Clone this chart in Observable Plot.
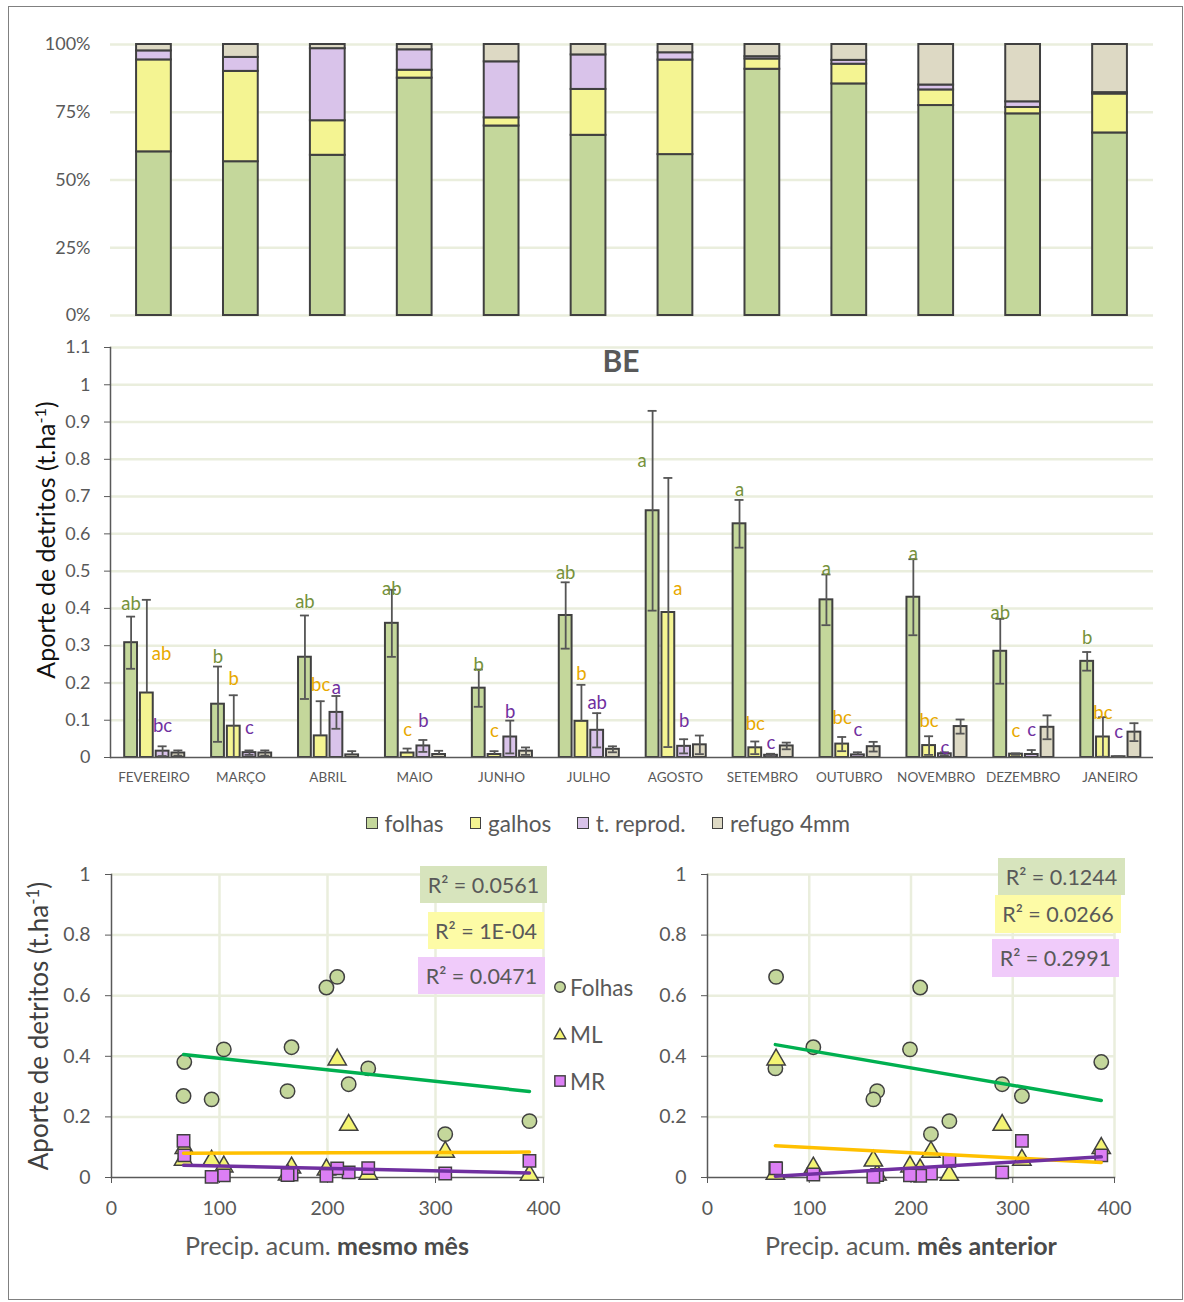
<!DOCTYPE html>
<html>
<head>
<meta charset="utf-8">
<script src="https://cdn.jsdelivr.net/npm/d3@7"></script>
<script src="https://cdn.jsdelivr.net/npm/@observablehq/plot@0.6"></script>
<style>
  body { margin: 0; background: #fff; font-family: Lato, "Noto Sans", sans-serif; }
  #root { position: relative; width: 1184px; height: 1302px; overflow: hidden; }
  .rot { position: absolute; transform: translate(-50%, -50%) rotate(-90deg); white-space: nowrap; }
  .r2 { position: absolute; display: flex; align-items: center; justify-content: center; font-size: 21.5px; color: #595959; white-space: nowrap; }
  .leg { position: absolute; display: flex; align-items: center; gap: 26px; font-size: 22.5px; color: #595959; height: 28px; }
  .leg .it { display: flex; align-items: center; }
  .leg .sw { width: 9.5px; height: 9.5px; border: 1.5px solid #404040; margin-right: 7px; }
  .sleg { position: absolute; display: flex; align-items: center; font-size: 22.5px; color: #595959; height: 28px; }
  .xt { position: absolute; transform: translate(-50%, -50%); font-size: 25px; color: #595959; white-space: nowrap; }
  .xt b { color: #4a4a4a; }
</style>
</head>
<body>
<div id="root"></div>
<script>
// ---------------- DATA ----------------
const months = ["FEVEREIRO","MARÇO","ABRIL","MAIO","JUNHO","JULHO","AGOSTO","SETEMBRO","OUTUBRO","NOVEMBRO","DEZEMBRO","JANEIRO"];
const typeNames = ["folhas","galhos","t. reprod.","refugo 4mm"];

const folhas    = [0.308, 0.143, 0.269, 0.360, 0.186, 0.381, 0.662, 0.627, 0.423, 0.430, 0.285, 0.258];
const folhasSD  = [0.070, 0.101, 0.112, 0.090, 0.050, 0.089, 0.268, 0.064, 0.068, 0.102, 0.087, 0.025];
const galhos    = [0.173, 0.084, 0.058, 0.012, 0.008, 0.097, 0.389, 0.026, 0.036, 0.032, 0.009, 0.055];
const galhosSD  = [0.250, 0.083, 0.093, 0.012, 0.009, 0.098, 0.361, 0.017, 0.019, 0.025, 0.002, 0.053];
const reprod    = [0.017, 0.013, 0.121, 0.031, 0.055, 0.073, 0.030, 0.006, 0.007, 0.010, 0.008, 0.002];
const reprodSD  = [0.013, 0.006, 0.044, 0.016, 0.044, 0.046, 0.019, 0.004, 0.007, 0.004, 0.012, 0.001];
const refugo    = [0.012, 0.012, 0.007, 0.008, 0.017, 0.022, 0.034, 0.031, 0.029, 0.083, 0.081, 0.068];
const refugoSD  = [0.007, 0.007, 0.010, 0.010, 0.010, 0.008, 0.025, 0.009, 0.013, 0.019, 0.032, 0.024];

const folhasLetra  = ["ab","b","ab","ab","b","ab","a","a","a","a","ab","b"];
const galhosLetra  = ["ab","b","bc","c","c","b","a","bc","bc","bc","c","bc"];
const reprodLetra  = ["bc","c","a","b","b","ab","b","c","c","c","c","c"];
const folhasLetraY = [0.411, 0.269, 0.416, 0.453, 0.249, 0.496, 0.796, 0.718, 0.506, 0.546, 0.388, 0.321];
const galhosLetraY = [0.277, 0.210, 0.193, 0.074, 0.070, 0.223, 0.453, 0.089, 0.107, 0.098, 0.071, 0.120];
const reprodLetraY = [0.084, 0.079, 0.186, 0.099, 0.122, 0.147, 0.097, 0.039, 0.073, 0.026, 0.073, 0.068];

const precipMesmo    = [219.6, 309, 66.7, 237.7, 387, 67.4, 209, 199, 104, 166.7, 163, 92.7];
const precipAnterior = [289.6, 219.6, 309, 66.7, 237.7, 387, 67.4, 209, 199, 104, 166.7, 163];

const r2Mesmo    = ["0.0561", "1E-04", "0.0471"];
const r2Anterior = ["0.1244", "0.0266", "0.2991"];
const scatterNames = ["Folhas", "ML", "MR"];
const chartTitle = "BE";
const yTitleHTML = "Aporte de detritos (t.ha<sup style='font-size:0.65em'>-1</sup>)";
const xTitles = [["Precip. acum. ", "mesmo mês"], ["Precip. acum. ", "mês anterior"]];
const pctTicks = [0, 0.25, 0.5, 0.75, 1];
const midTicks = d3.range(0, 12).map(i => i / 10);
const scTicksX = [0, 100, 200, 300, 400];
const scTicksY = [0, 0.2, 0.4, 0.6, 0.8, 1];

// ---------------- STYLE ----------------
const FILLS = ["#C4D79B", "#F4F492", "#D9C3EA", "#DDD9C4"];
const LCOL = ["#76923C", "#E8A900", "#7030A0"];
const GRID = "#EAEEDD";
const AXIS = "#595959";
const EDGE = "#404040";
const SC_FILL = ["#C4D79B", "#F4F474", "#DC7FF5"];
const SC_SYM = ["circle", "triangle", "square"];
const SC_R = [7.2, 6.8, 7.0];
const TREND = ["#00B050", "#FFC000", "#7030A0"];
const R2BG = ["#D7E4BD", "#FDFBA6", "#F0CBFA"];

// ---------------- BUILD ----------------
const series = [folhas, galhos, reprod, refugo];
const sds = [folhasSD, galhosSD, reprodSD, refugoSD];
const letras = [folhasLetra, galhosLetra, reprodLetra];
const letrasY = [folhasLetraY, galhosLetraY, reprodLetraY];
const long = [];
months.forEach((m, i) => series.forEach((s, k) => long.push({
  month: m, type: typeNames[k], k, value: s[i],
  lo: s[i] - sds[k][i], hi: s[i] + sds[k][i],
  letra: letras[k] ? letras[k][i] : null, ly: letrasY[k] ? letrasY[k][i] : null
})));
const sc = months.map((m, i) => ({month: m, pm: precipMesmo[i], pa: precipAnterior[i], v0: folhas[i], v1: galhos[i], v2: reprod[i]}));

const root = document.getElementById("root");
function place(el, left, top) { el.style.position = "absolute"; el.style.left = left + "px"; el.style.top = top + "px"; root.appendChild(el); return el; }
function html(s) { const d = document.createElement("div"); d.innerHTML = s; return d.firstElementChild; }

// page border
place(html(`<div style="width:1175px;height:1294px;border:1.5px solid #808080;box-sizing:border-box"></div>`), 8, 6);

// ---- top: 100% stacked ----
const topPlot = Plot.plot({
  width: 1184, height: 330, marginTop: 44, marginBottom: 15, marginLeft: 110, marginRight: 31,
  style: {fontFamily: "Lato", fontSize: "18px", color: "#595959", background: "transparent", overflow: "visible"},
  x: {domain: months, paddingInner: 0.6, paddingOuter: 0.3, round: false, axis: null},
  y: {domain: [0, 1]},
  color: {domain: typeNames, range: FILLS},
  marks: [
    Plot.gridY({ticks: pctTicks, stroke: GRID, strokeOpacity: 1, strokeWidth: 2.5}),
    Plot.axisY({ticks: pctTicks, tickFormat: d => Math.round(d * 100) + "%", tickSize: 0, tickPadding: 20, label: null}),
    Plot.barY(long, Plot.stackY({offset: "normalize"}, {x: "month", y: "value", fill: "type", stroke: EDGE, strokeWidth: 2}))
  ]
});
place(topPlot, 0, 0);

// ---- middle: grouped bars with error bars ----
const BW = 1043 / 12;
const C = [20.6, 36.35, 52.1, 67.85];
const BARW = 12.8, CAPW = 9;
const off = k => C[k] - BW / 2;
const midMarks = [
  Plot.gridY({ticks: midTicks.slice(1), stroke: GRID, strokeOpacity: 1, strokeWidth: 2.5}),
  Plot.text([chartTitle], {frameAnchor: "top", lineAnchor: "middle", text: d => d, dy: 15, dx: -11, fontSize: 30, fontWeight: 700, fill: "#595959"}),
  Plot.axisX({tickSize: 0, tickPadding: 15, label: null, fontSize: 13.5}),
  Plot.axisY({ticks: midTicks, tickFormat: d => String(+d.toFixed(1)), tickSize: 6, tickPadding: 14, label: null, fontSize: 18}),
];
typeNames.forEach((t, k) => {
  const d = long.filter(r => r.k === k);
  midMarks.push(Plot.barY(d, {x: "month", y: "value", fill: FILLS[k], stroke: EDGE, strokeWidth: 2,
    insetLeft: C[k] - BARW / 2, insetRight: BW - C[k] - BARW / 2}));
});
typeNames.forEach((t, k) => {
  const d = long.filter(r => r.k === k);
  midMarks.push(
    Plot.ruleX(d, {x: "month", y1: r => (r.lo > 0 ? r.lo : r.value), y2: "hi", dx: off(k), stroke: "#555", strokeWidth: 1.8}),
    Plot.tickY(d, {x: "month", y: "hi", stroke: "#555", strokeWidth: 1.8, insetLeft: C[k] - CAPW / 2, insetRight: BW - C[k] - CAPW / 2}),
    Plot.tickY(d.filter(r => r.lo > 0), {x: "month", y: "lo", stroke: "#555", strokeWidth: 1.8, insetLeft: C[k] - CAPW / 2, insetRight: BW - C[k] - CAPW / 2})
  );
});
[0, 1, 2].forEach(k => {
  const d = long.filter(r => r.k === k);
  midMarks.push(
    Plot.text(d.filter(r => r.ly >= r.hi), {x: "month", y: "ly", text: "letra", fill: LCOL[k], fontSize: 18.5, dx: off(k)}),
    Plot.text(d.filter(r => r.ly < r.hi), {x: "month", y: "ly", text: "letra", fill: LCOL[k], fontSize: 18.5,
      dx: k === 0 ? off(k) - 6 : off(k) + 5, textAnchor: k === 0 ? "end" : "start"})
  );
});
midMarks.push(Plot.frame({anchor: "left", stroke: AXIS, strokeWidth: 1.5}));
midMarks.push(Plot.ruleY([0], {stroke: AXIS, strokeWidth: 1.5}));

const midPlot = Plot.plot({
  width: 1184, height: 465, marginTop: 17, marginBottom: 38, marginLeft: 110, marginRight: 31,
  style: {fontFamily: "Lato", fontSize: "13.5px", color: "#595959", background: "transparent", overflow: "visible"},
  x: {domain: months, padding: 0, round: false},
  y: {domain: [0, 1.1]},
  marks: midMarks
});
place(midPlot, 0, 330);

place(html(`<div class="rot" style="font-size:25px;color:#111">${yTitleHTML}</div>`), 45, 540);

// legend
const leg = html(`<div class="leg"></div>`);
typeNames.forEach((t, k) => {
  leg.insertAdjacentHTML("beforeend", `<div class="it"><div class="sw" style="background:${FILLS[k]}"></div><span>${t}</span></div>`);
});
place(leg, 366, 809);

// ---- scatter plots ----
function scatter(xKey, width, ml, mr) {
  const marks = [
    Plot.gridX({ticks: scTicksX.slice(1), stroke: GRID, strokeOpacity: 1, strokeWidth: 2.5}),
    Plot.gridY({ticks: scTicksY.slice(1), stroke: GRID, strokeOpacity: 1, strokeWidth: 2.5}),
    Plot.axisX({ticks: scTicksX, tickSize: 6, tickPadding: 18, label: null}),
    Plot.axisY({ticks: scTicksY, tickFormat: d => String(+d.toFixed(1)), tickSize: 6, tickPadding: 15, label: null}),
    Plot.frame({anchor: "left", stroke: AXIS, strokeWidth: 1.5}),
    Plot.frame({anchor: "bottom", stroke: AXIS, strokeWidth: 1.5})
  ];
  [0, 1, 2].forEach(k => marks.push(Plot.dot(sc, {x: xKey, y: "v" + k, symbol: SC_SYM[k], r: SC_R[k], fill: SC_FILL[k], stroke: EDGE, strokeWidth: 1.5})));
  [0, 1, 2].forEach(k => marks.push(Plot.linearRegressionY(sc, {x: xKey, y: "v" + k, stroke: TREND[k], strokeWidth: 3.5, ci: 0})));
  return Plot.plot({
    width, height: 420, marginTop: 24, marginBottom: 93, marginLeft: ml, marginRight: mr,
    style: {fontFamily: "Lato", fontSize: "19.5px", color: "#595959", background: "transparent", overflow: "visible"},
    x: {domain: [0, 400]}, y: {domain: [0, 1]},
    marks
  });
}
place(scatter("pm", 640, 111, 97), 0, 850);
place(scatter("pa", 584, 107, 70), 600, 850);

place(html(`<div class="rot" style="font-size:26px;color:#404040">${yTitleHTML}</div>`), 38, 1026);
place(html(`<div class="xt">${xTitles[0][0]}<b>${xTitles[0][1]}</b></div>`), 327, 1245);
place(html(`<div class="xt">${xTitles[1][0]}<b>${xTitles[1][1]}</b></div>`), 911, 1245);

// R² boxes
const boxL = [[420, 866, 127, 37], [428, 912, 116, 37], [418, 957, 127, 37]];
const boxR = [[998, 858, 127, 37], [995, 895, 126, 38], [992, 939, 127, 38]];
r2Mesmo.forEach((v, k) => { const b = boxL[k]; place(html(`<div class="r2" style="width:${b[2]}px;height:${b[3]}px;background:${R2BG[k]}">R² = ${v}</div>`), b[0], b[1]); });
r2Anterior.forEach((v, k) => { const b = boxR[k]; place(html(`<div class="r2" style="width:${b[2]}px;height:${b[3]}px;background:${R2BG[k]}">R² = ${v}</div>`), b[0], b[1]); });

// scatter legend
const symPaths = [
  `<circle cx="7" cy="7" r="5.3" fill="${SC_FILL[0]}" stroke="${EDGE}" stroke-width="1.4"/>`,
  `<path d="M7 1.5 L12.8 11.8 L1.2 11.8 Z" fill="${SC_FILL[1]}" stroke="${EDGE}" stroke-width="1.4"/>`,
  `<rect x="1.8" y="1.8" width="10.4" height="10.4" fill="${SC_FILL[2]}" stroke="${EDGE}" stroke-width="1.4"/>`
];
const legY = [987, 1034, 1081];
scatterNames.forEach((n, k) => {
  place(html(`<div class="sleg"><svg width="14" height="14" style="margin-right:3px">${symPaths[k]}</svg><span>${n}</span></div>`), 553, legY[k] - 14);
});
</script>
</body>
</html>
